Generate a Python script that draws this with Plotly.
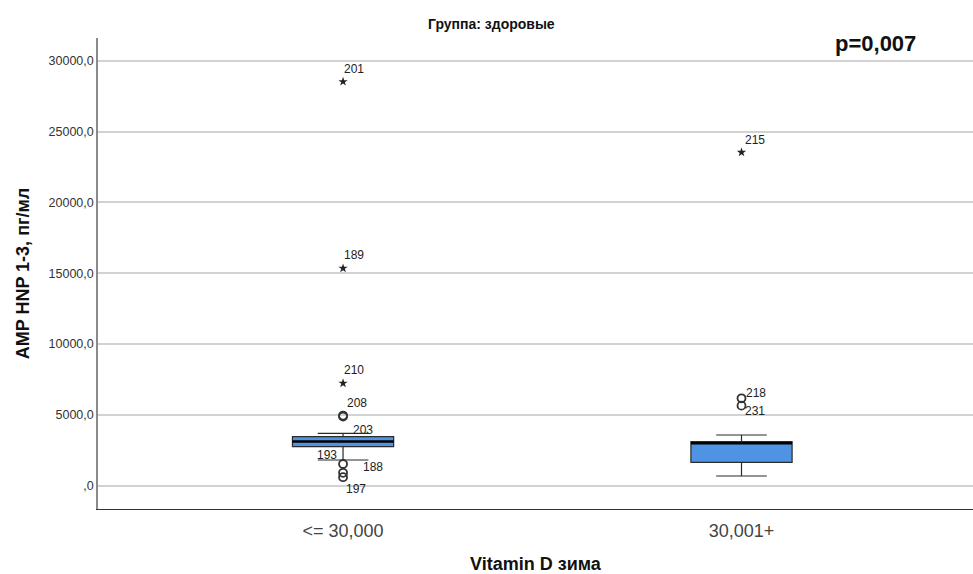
import plotly.graph_objects as go

# Groups on the x axis
groups = ["<= 30,000", "30,001+"]
group_pos = [0, 1]

# Box summaries per group (pg/ml)
q1 = [2753, 1652]
median = [3120, 3000]
q3 = [3459, 3106]
lower_whisker = [1814, 685]
upper_whisker = [3699, 3579]

# Outliers (circles) and extremes (stars) with case numbers
out_group = [0, 0, 0, 0, 0, 1, 1]
out_value = [4950, 4880, 1530, 910, 600, 6170, 5650]
out_case = ["208", "203", "193", "188", "197", "218", "231"]
out_label_shift = [(14, 13), (20, -13), (-16, 9), (30, 6), (13, -12), (14, 5), (13, -5)]

ext_group = [0, 0, 0, 1]
ext_value = [28520, 15345, 7230, 23530]
ext_case = ["201", "189", "210", "215"]
ext_label_shift = [(11, 13), (11, 13), (11, 13), (13, 12)]

y_ticks = [0, 5000, 10000, 15000, 20000, 25000, 30000]


def fmt_tick(v):
    s = f"{v:.1f}".replace(".", ",")
    return s[1:] if v == 0 else s


FONT = "Liberation Sans, Arial, sans-serif"
box_w = 0.254
fig = go.Figure()

for i, g in enumerate(groups):
    fig.add_trace(go.Box(
        x=[group_pos[i]],
        q1=[q1[i]], median=[median[i]], q3=[q3[i]],
        lowerfence=[lower_whisker[i]], upperfence=[upper_whisker[i]],
        width=box_w, whiskerwidth=0.5,
        fillcolor="#4f93e3",
        line=dict(color="#2b2b2b", width=1.2),
        boxpoints=False, showlegend=False, hoverinfo="skip",
    ))
    # thicker median bar
    fig.add_trace(go.Scatter(
        x=[group_pos[i] - box_w / 2, group_pos[i] + box_w / 2],
        y=[median[i], median[i]],
        mode="lines", line=dict(color="black", width=2.5),
        showlegend=False, hoverinfo="skip",
    ))

fig.add_trace(go.Scatter(
    x=[group_pos[g] for g in out_group], y=out_value, mode="markers",
    marker=dict(symbol="circle-open", size=8, color="#333333", line=dict(width=1.8)),
    showlegend=False, hoverinfo="skip",
))
fig.add_trace(go.Scatter(
    x=[group_pos[g] for g in ext_group], y=ext_value, mode="markers",
    marker=dict(symbol="star", size=7, color="#222222"),
    showlegend=False, hoverinfo="skip",
))

for grp, val, case, (dx, dy) in list(zip(out_group, out_value, out_case, out_label_shift)) + \
        list(zip(ext_group, ext_value, ext_case, ext_label_shift)):
    fig.add_annotation(
        x=group_pos[grp], y=val, text=case, showarrow=False,
        xshift=dx, yshift=dy,
        font=dict(family=FONT, size=12, color="#222222"),
    )

fig.add_annotation(
    x=0.450, y=1.0297, xref="paper", yref="paper", xanchor="center", yanchor="middle",
    text="<b>Группа: здоровые</b>", showarrow=False,
    font=dict(family=FONT, size=14, color="#111111"),
)
fig.add_annotation(
    x=0.937, y=0.989, xref="paper", yref="paper", xanchor="right", yanchor="middle",
    text="<b>p=0,007</b>", showarrow=False,
    font=dict(family=FONT, size=22, color="#111111"),
)

fig.update_layout(
    width=973, height=574,
    margin=dict(l=98, r=0, t=38, b=65),
    paper_bgcolor="white", plot_bgcolor="white",
    font=dict(family=FONT, color="#333333"),
    xaxis=dict(
        range=[-0.615, 1.581], tickvals=group_pos, ticktext=groups,
        showgrid=False, zeroline=False, showline=True, linecolor="#333333", linewidth=1,
        ticks="", ticklabelstandoff=5, tickfont=dict(size=18, color="#444444"),
        title=dict(text="<b>Vitamin D зима</b>", font=dict(size=18, color="#111111"), standoff=19),
    ),
    yaxis=dict(
        range=[-1645, 31600], tickvals=y_ticks, ticktext=[fmt_tick(v) for v in y_ticks],
        showgrid=True, gridcolor="#d2d2d2", gridwidth=1.5, zeroline=False,
        showline=True, linecolor="#8a8a8a", linewidth=1.5,
        ticks="", tickfont=dict(size=12.5, color="#333333"),
        title=dict(text="<b>AMP HNP 1-3, пг/мл</b>", font=dict(size=18, color="#111111"), standoff=14),
    ),
)

fig.write_html("out.html")
